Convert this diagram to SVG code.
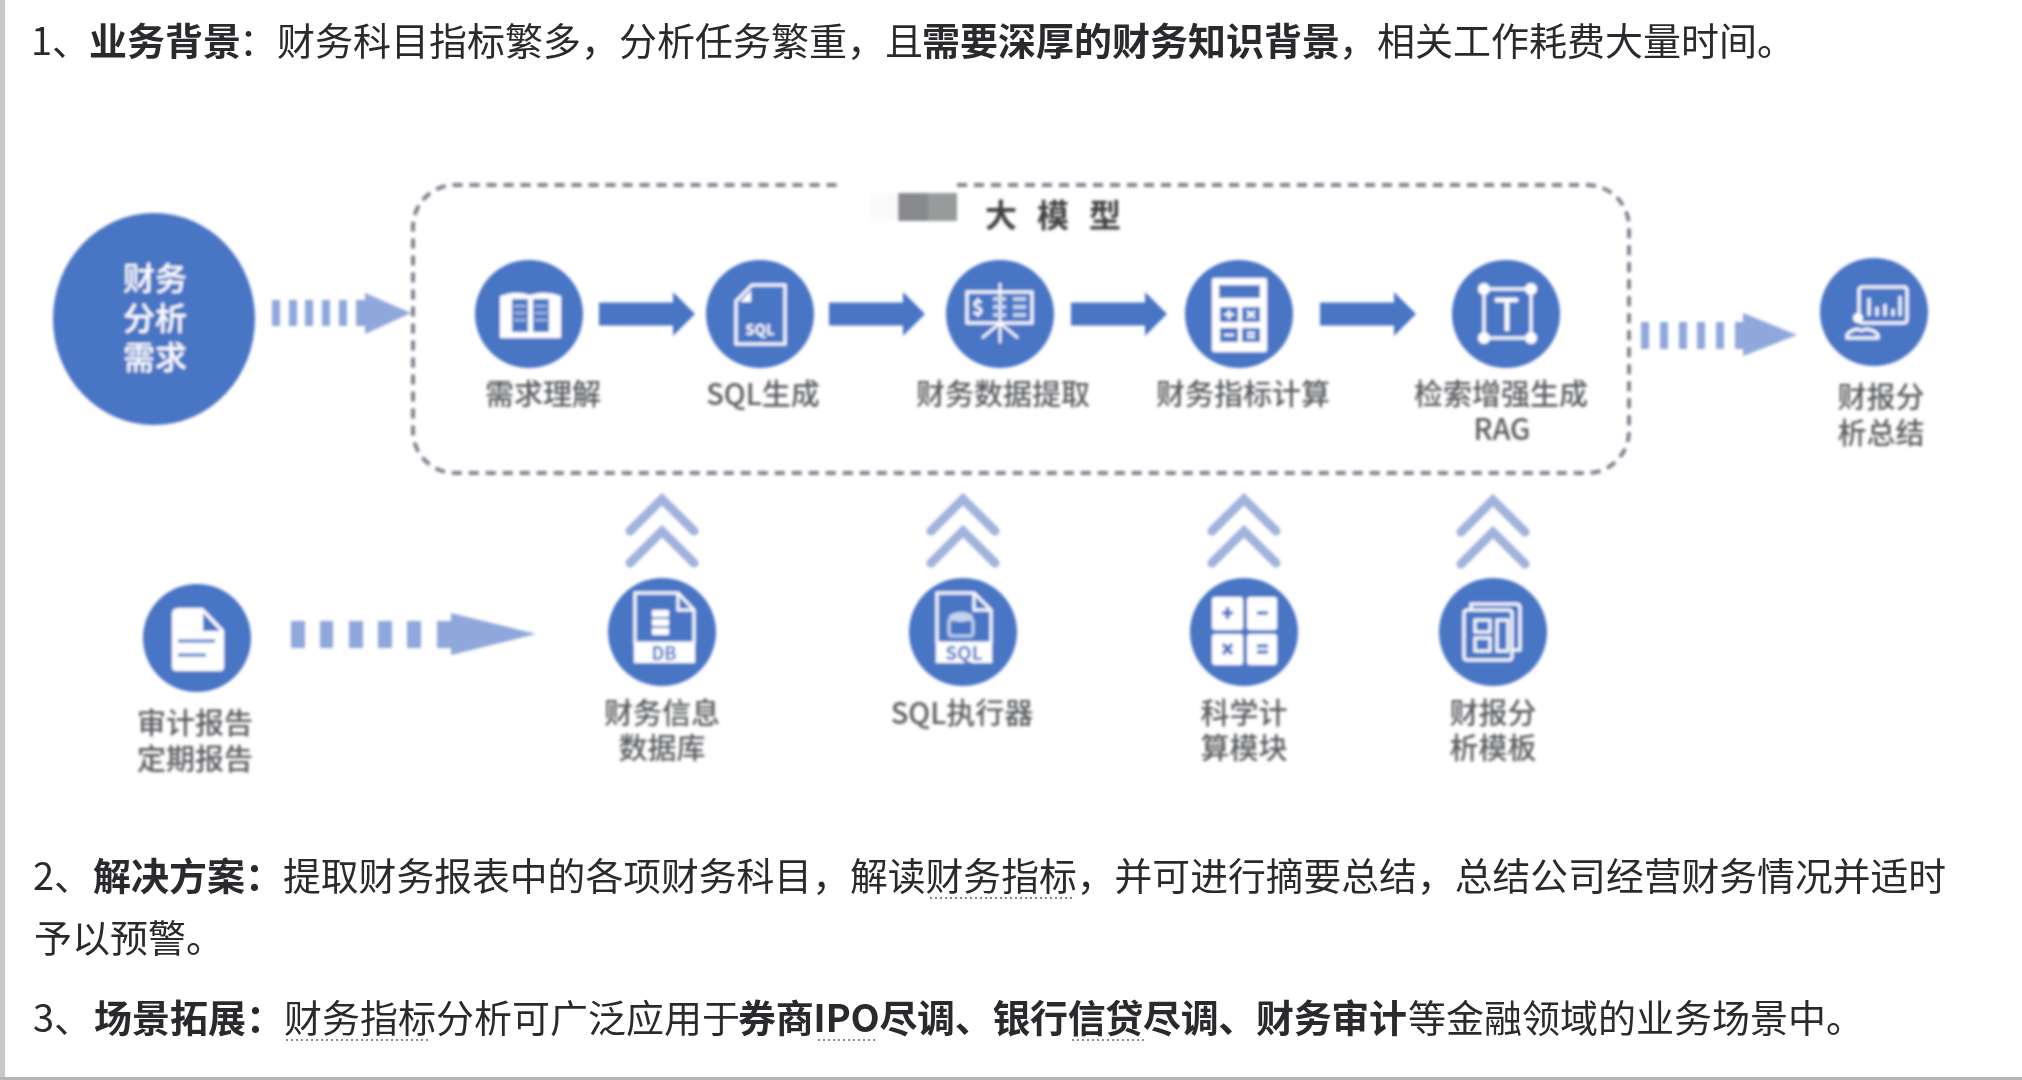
<svg xmlns="http://www.w3.org/2000/svg" width="2022" height="1080" viewBox="0 0 2022 1080">
<style>
text{font-family:"Noto Sans CJK SC","Noto Sans",sans-serif}
.p{font-size:38px;fill:#2b2b2d}
.p2{font-size:37.8px}
.b{font-weight:700}
.l{font-size:29px;fill:#595b5e;text-anchor:middle;font-weight:500}
.disc{fill:#4a74c5}
.w{fill:#fff}
.bl{fill:#4a74c5}
.o{fill:none;stroke:#fff;stroke-width:3}
.ob{fill:none;stroke:#4a74c5;stroke-width:3}
.soft{fill:#8fa7db}
.solid{fill:#4a74c5}
.chev{fill:none;stroke:#a1b3dc;stroke-width:9;stroke-linecap:round;stroke-linejoin:miter}
.dot{stroke:#8a8a8a;stroke-width:2;stroke-dasharray:2 3;fill:none}
.ic{font-weight:700;text-anchor:middle}
</style>
<defs>
<filter id="soft" filterUnits="userSpaceOnUse" x="0" y="100" width="2022" height="720"><feGaussianBlur stdDeviation="1.4"/></filter>
<filter id="softer" filterUnits="userSpaceOnUse" x="0" y="0" width="2022" height="1080"><feGaussianBlur stdDeviation="0.4"/></filter>
<path id="solidArrow" d="M0-11.5H74V-22L96 0 74 22V11.5H0Z"/>
<g id="chevron"><polyline points="-32,38 0,6 32,38"/><polyline points="-32,70 0,38 32,70"/></g>
</defs>
<rect width="2022" height="1080" fill="#fff"/>
<rect x="0" y="0" width="5" height="1080" fill="#c9c9c9"/>
<rect x="0" y="1077" width="2022" height="3" fill="#b5b5b5"/>

<g id="text-top" filter="url(#softer)">
<text class="p" x="31" y="55">1、</text>
<text class="p b" x="89" y="55">业务背景</text>
<text class="p" x="239" y="55">：财务科目指标繁多，分析任务繁重，且</text>
<text class="p b" x="922" y="55">需要深厚的财务知识背景</text>
<text class="p" x="1339" y="55">，相关工作耗费大量时间。</text>
</g>

<g id="diagram" filter="url(#soft)">
<g id="frame">
<path d="M957 185H1587A42 42 0 0 1 1629 227V431A42 42 0 0 1 1587 473H455A42 42 0 0 1 413 431V227A42 42 0 0 1 455 185H842" fill="none" stroke="#7d818c" stroke-width="4" stroke-dasharray="10 7"/>
<rect x="870" y="193" width="28" height="28" fill="#fbfafa"/>
<rect x="898" y="193" width="30" height="28" fill="#88898c"/>
<rect x="928" y="193" width="29" height="28" fill="#979b9b"/>
<text x="985" y="227" font-size="32" font-weight="700" fill="#3f4042" letter-spacing="20">大模型</text>
</g>

<g id="connectors">
<use href="#solidArrow" class="solid" transform="translate(599 314)"/>
<use href="#solidArrow" class="solid" transform="translate(829 314)"/>
<use href="#solidArrow" class="solid" transform="translate(1071 314)"/>
<use href="#solidArrow" class="solid" transform="translate(1320 314)"/>
<path class="soft" d="M272 300h8v26h-8zM289 300h8v26h-8zM305 300h8v26h-8zM322 300h8v26h-8zM339 300h8v26h-8zM356 300h9v-7l46 20-46 21v-8h-9z"/>
<path class="soft" d="M1641 322h8v27h-8zM1660 322h8v27h-8zM1679 322h8v27h-8zM1697 322h8v27h-8zM1716 322h8v27h-8zM1735 322h8v-9l54 22-54 21v-7h-8z"/>
<path class="soft" d="M291 621h14v27h-14zM320 621h13v27h-13zM349 621h14v27h-14zM378 621h14v27h-14zM407 621h14v27h-14zM437 621h14v-8l85 21-85 21v-7h-14z"/>
<use href="#chevron" class="chev" transform="translate(662 493)"/>
<use href="#chevron" class="chev" transform="translate(963 493)"/>
<use href="#chevron" class="chev" transform="translate(1244 493)"/>
<use href="#chevron" class="chev" transform="translate(1493 494)"/>
</g>

<g id="node-demand">
<ellipse class="disc" cx="154" cy="319" rx="101" ry="106"/>
<text font-size="32" font-weight="500" fill="#fff" text-anchor="middle"><tspan x="155" y="290">财务</tspan><tspan x="155" y="330">分析</tspan><tspan x="155" y="369">需求</tspan></text>
</g>

<g id="node-understand">
<circle class="disc" cx="529" cy="314" r="54"/>
<path class="w" d="M500 296Q515 290 530 295Q545 290 561 296V338H500Z"/>
<rect class="bl" x="512" y="299" width="16" height="33"/>
<rect class="bl" x="533" y="299" width="16" height="33"/>
<path d="M514 306h12M514 313h12M514 320h12M535 306h12M535 313h12M535 320h12" stroke="#a9bde6" stroke-width="2.5"/>
<text class="l" x="543" y="405">需求理解</text>
</g>

<g id="node-sql">
<circle class="disc" cx="760" cy="314" r="54"/>
<path class="o" d="M752 285H785V344H736V301Z" stroke-width="4"/>
<path class="w" d="M751 290V302H740Z"/>
<text x="760" y="335" font-size="15" fill="#fff" class="ic">SQL</text>
<text class="l" x="763" y="405">SQL生成</text>
</g>

<g id="node-extract">
<circle class="disc" cx="1000" cy="314" r="54"/>
<rect class="o" x="967" y="292" width="65" height="31"/>
<path d="M1000 283V343M1000 323L982 338M1000 323L1018 338" stroke="#fff" stroke-width="2.5" fill="none"/>
<text x="978" y="315" font-size="20" fill="#fff" class="ic">$</text>
<path d="M993 299h13M993 307h13M993 315h13M1013 299h13M1013 307h13M1013 315h13" stroke="#d3ddf3" stroke-width="3.5"/>
<text class="l" x="1003" y="405">财务数据提取</text>
</g>

<g id="node-calc">
<circle class="disc" cx="1239" cy="314" r="54"/>
<rect class="w" x="1212" y="278" width="55" height="74" rx="2"/>
<rect class="bl" x="1219" y="285" width="41" height="13"/>
<rect class="bl" x="1220" y="307" width="18" height="15"/>
<rect class="bl" x="1242" y="307" width="18" height="15"/>
<rect class="bl" x="1220" y="328" width="18" height="14"/>
<rect class="bl" x="1242" y="328" width="18" height="14"/>
<path d="M1224 314.500h10M1229 310v9M1247 311l8 7M1255 311l-8 7M1224 335h10M1247 333h8M1247 337h8" stroke="#fff" stroke-width="2.500"/>
<text class="l" x="1243" y="405">财务指标计算</text>
</g>

<g id="node-rag">
<circle class="disc" cx="1506" cy="314" r="54"/>
<rect class="o" x="1484" y="289" width="47" height="49" stroke-width="4"/>
<circle class="w" cx="1484" cy="289" r="6"/><circle class="w" cx="1531" cy="289" r="6"/><circle class="w" cx="1484" cy="338" r="6"/><circle class="w" cx="1531" cy="338" r="6"/>
<path d="M1495 300H1518M1507 300V331" stroke="#fff" stroke-width="4.500" fill="none"/>
<text class="l"><tspan x="1501" y="405">检索增强生成</tspan><tspan x="1502" y="440">RAG</tspan></text>
</g>

<g id="node-summary">
<circle class="disc" cx="1874" cy="312" r="54"/>
<rect class="o" x="1859" y="287" width="48" height="36" rx="3" stroke-width="2.500"/>
<path d="M1869 316v-18M1877 316v-9M1885 316v-12M1893 316v-7M1900 316v-20" stroke="#fff" stroke-width="3"/>
<circle class="w" cx="1858" cy="318" r="5"/>
<path class="o" d="M1847 338v-3q3-5 11-6 3 3 8 0 9 1 12 6v3Z" stroke-width="2.500"/>
<text class="l"><tspan x="1881" y="408">财报分</tspan><tspan x="1881" y="444">析总结</tspan></text>
</g>

<g id="node-reports">
<circle class="disc" cx="197" cy="638" r="54"/>
<path class="w" d="M178 608H203L224 630V667Q224 671 220 671H176Q172 671 172 667V614Q172 608 178 608Z"/>
<path class="bl" d="M203 613L220 631H203Z"/>
<path class="ob" d="M178 641H215M178 655H206" stroke-width="4"/>
<text class="l"><tspan x="195" y="734">审计报告</tspan><tspan x="195" y="770">定期报告</tspan></text>
</g>

<g id="node-db">
<circle class="disc" cx="662" cy="632" r="54"/>
<path class="o" d="M635 593H678L694 610V643H635Z"/>
<path class="o" d="M678 593V610H694" stroke-width="2"/>
<rect class="w" x="634" y="643" width="61" height="20"/>
<rect class="w" x="652" y="610" width="17" height="7" rx="1"/><rect class="w" x="652" y="619" width="17" height="7" rx="1"/><rect class="w" x="652" y="628" width="17" height="7" rx="1"/>
<text x="664" y="660" font-size="18" fill="#4a74c5" class="ic">DB</text>
<text class="l"><tspan x="662" y="724">财务信息</tspan><tspan x="662" y="759">数据库</tspan></text>
</g>

<g id="node-exec">
<circle class="disc" cx="963" cy="632" r="54"/>
<path class="o" d="M937 593H974L991 610V643H937Z"/>
<path class="o" d="M974 593V610H991" stroke-width="2"/>
<rect class="w" x="936" y="643" width="56" height="20"/>
<ellipse cx="961" cy="617" rx="12" ry="5" fill="#c6d3ef"/>
<rect x="949" y="619" width="24" height="17" rx="3" fill="none" stroke="#c6d3ef" stroke-width="3"/>
<text x="964" y="660" font-size="19" fill="#4a74c5" class="ic">SQL</text>
<text class="l" x="962" y="724">SQL执行器</text>
</g>

<g id="node-science">
<circle class="disc" cx="1244" cy="632" r="54"/>
<rect class="w" x="1212" y="597" width="31" height="33" rx="3"/>
<rect class="w" x="1247" y="597" width="30" height="33" rx="3"/>
<rect class="w" x="1212" y="634" width="31" height="31" rx="3"/>
<rect class="w" x="1247" y="634" width="30" height="31" rx="3"/>
<path d="M1222 613h11M1227.500 607v12M1257 613h11M1223 644l9 10M1232 644l-9 10M1257 646h11M1257 652h11" stroke="#4a74c5" stroke-width="3.500" fill="none"/>
<text class="l"><tspan x="1244" y="724">科学计</tspan><tspan x="1244" y="759">算模块</tspan></text>
</g>

<g id="node-template">
<circle class="disc" cx="1493" cy="632" r="54"/>
<rect class="o" x="1464" y="610" width="48" height="50" rx="3" stroke-width="2.500"/>
<path class="o" d="M1471 610V604H1516Q1520 604 1520 608V650H1512" stroke-width="2.500"/>
<rect class="o" x="1475" y="620" width="15" height="12" stroke-width="2.500"/>
<rect class="o" x="1475" y="638" width="15" height="13" stroke-width="2.500"/>
<rect class="o" x="1497" y="620" width="11" height="31" stroke-width="2.500"/>
<text class="l"><tspan x="1493" y="724">财报分</tspan><tspan x="1493" y="759">析模板</tspan></text>
</g>
</g>

<g id="text-bottom" filter="url(#softer)">
<text class="p" x="33" y="890">2、</text>
<text class="p b" x="93" y="890">解决方案：</text>
<text class="p p2" x="283" y="890">提取财务报表中的各项财务科目，解读财务指标，并可进行摘要总结，总结公司经营财务情况并适时</text>
<text class="p" x="34" y="952">予以预警。</text>
<text class="p" x="33" y="1032">3、</text>
<text class="p b" x="94" y="1032">场景拓展：</text>
<text class="p" x="284" y="1032">财务指标分析可广泛应用于</text>
<text class="p b" x="738" y="1032" textLength="669">券商IPO尽调、银行信贷尽调、财务审计</text>
<text class="p" x="1408" y="1032">等金融领域的业务场景中。</text>
<path class="dot" d="M930 898H1073M286 1040H429M818 1040H876M1072 1040H1144"/>
</g>
</svg>
